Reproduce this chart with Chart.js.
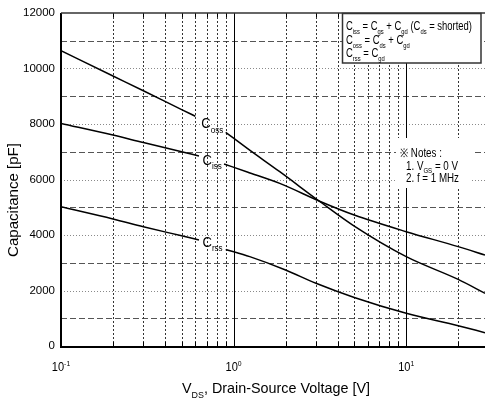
<!DOCTYPE html>
<html><head><meta charset="utf-8">
<script src="https://cdn.jsdelivr.net/npm/chart.js@4.4.0/dist/chart.umd.min.js"></script>
<style>html,body{margin:0;padding:0;background:#fff}#wrap{width:486px;height:403px;position:relative}</style>
</head><body><div id="wrap"><canvas id="c"></canvas></div>
<script>
const FONT = '"Liberation Sans", Arial, Helvetica, sans-serif';

// ---- data ----
const vdsOss = [0.1, 0.2, 0.3, 0.5, 0.6, 0.75, 0.9, 1.2, 1.85, 3.2, 5, 10, 20, 28.6];
const coss   = [10640, 9730, 9200, 8520, 8280, null, 7700, 7120, 6280, 5180, 4320, 3220, 2400, 1900];
const vdsIss = [0.1, 0.2, 0.3, 0.5, 0.63, 0.75, 0.88, 1.2, 1.85, 3.2, 5, 10, 20, 28.6];
const ciss   = [8020, 7600, 7330, 7000, 6850, null, 6560, 6270, 5860, 5200, 4720, 4120, 3580, 3280];
const vdsRss = [0.1, 0.2, 0.3, 0.5, 0.63, 0.76, 0.9, 1.24, 2, 3, 5, 10, 20, 28.6];
const crss   = [5020, 4580, 4300, 3970, 3820, null, 3480, 3220, 2740, 2260, 1750, 1180, 730, 480];

const xMin = 0.1, xMax = 28.6;
const yMin = 0, yMax = 12000, yStep = 2000;
const xMajor = [0.1, 1, 10];
const xMinor = [0.2,0.3,0.4,0.5,0.6,0.7,0.8,0.9,2,3,4,5,6,7,8,9,20];
const xTickBase = ['10','10','10'];
const xTickExp  = ['-1','0','1'];
const yHalfGrid = [1000,3000,5000,7000,9000,11000];
const yFullGrid = [2000,4000,6000,8000,10000];

const curveLabels = [
  {main:'C', sub:'oss', x:0.65, y:8020},
  {main:'C', sub:'iss', x:0.66, y:6700},
  {main:'C', sub:'rss', x:0.66, y:3760}
];
const legendLines = [
  [['C',0],['iss',1],[' = ',0],['C',0],['gs',1],[' + ',0],['C',0],['gd',1],[' (',0],['C',0],['ds',1],[' = shorted)',0]],
  [['C',0],['oss',1],[' = ',0],['C',0],['ds',1],[' + ',0],['C',0],['gd',1]],
  [['C',0],['rss',1],[' = ',0],['C',0],['gd',1]]
];
const noteLines = [
  [['\u203B Notes :',0]],
  [['1. V',0],['GS',1],[' = 0 V',0]],
  [['2. f = 1 MHz',0]]
];
const yTitle = 'Capacitance [pF]';
const xTitle = [['V',0],['DS',1],[', Drain-Source Voltage [V]',0]];

function pts(xs, ys){ return xs.map((x,i)=>({x:x, y:ys[i]})); }

function richWidth(ctx, parts, size){
  let w = 0;
  parts.forEach(p=>{ ctx.font = (p[1] ? size*0.62 : size)+'px '+FONT; w += ctx.measureText(p[0]).width; });
  return w;
}
// draw text with sub/superscripts; sx = horizontal condense factor
function rich(ctx, parts, x, y, size, align, sx){
  sx = sx || 1;
  ctx.save();
  const w = richWidth(ctx, parts, size);
  if (align==='center') x -= w*sx/2;
  ctx.translate(x, y); ctx.scale(sx, 1);
  ctx.textAlign='left'; ctx.textBaseline='alphabetic';
  let cx = 0;
  parts.forEach(p=>{
    ctx.font = (p[1] ? size*0.62 : size)+'px '+FONT;
    const dy = p[1]===1 ? size*0.3 : (p[1]===2 ? -size*0.42 : 0);
    ctx.fillText(p[0], cx, dy);
    cx += ctx.measureText(p[0]).width;
  });
  ctx.restore();
  return w*sx;
}

const gridPlugin = {
  id:'grid',
  beforeDatasetsDraw(chart){
    const {ctx, chartArea:a, scales:{x, y}} = chart;
    ctx.save();
    ctx.lineWidth = 1;
    ctx.strokeStyle = '#8a8a8a'; ctx.setLineDash([1,2]);
    yFullGrid.forEach(v=>{ const p=Math.round(y.getPixelForValue(v))+0.5; ctx.beginPath(); ctx.moveTo(a.left,p); ctx.lineTo(a.right,p); ctx.stroke(); });
    ctx.strokeStyle = '#555'; ctx.setLineDash([6,3]);
    yHalfGrid.forEach(v=>{ const p=Math.round(y.getPixelForValue(v))+0.5; ctx.beginPath(); ctx.moveTo(a.left,p); ctx.lineTo(a.right,p); ctx.stroke(); });
    ctx.strokeStyle = '#333'; ctx.setLineDash([2,2]);
    xMinor.forEach(v=>{ const p=Math.round(x.getPixelForValue(v))+0.5; ctx.beginPath(); ctx.moveTo(p,a.top); ctx.lineTo(p,a.bottom); ctx.stroke(); });
    ctx.setLineDash([]); ctx.strokeStyle='#000';
    xMajor.slice(1).forEach(v=>{ const p=Math.round(x.getPixelForValue(v))+0.5; ctx.beginPath(); ctx.moveTo(p,a.top); ctx.lineTo(p,a.bottom); ctx.stroke(); });
    xMinor.concat(xMajor).forEach(v=>{ const p=Math.round(x.getPixelForValue(v))+0.5;
      ctx.beginPath(); ctx.moveTo(p,a.bottom); ctx.lineTo(p,a.bottom-4); ctx.moveTo(p,a.top); ctx.lineTo(p,a.top+4); ctx.stroke(); });
    ctx.fillStyle='#fff';
    ctx.fillRect(396, 138, 76, 50);
    ctx.restore();
  },
  afterDatasetsDraw(chart){
    const {ctx, chartArea:a, scales:{x, y}} = chart;
    ctx.save();
    ctx.fillStyle='#000';
    ctx.strokeStyle='#000'; ctx.lineWidth=2; ctx.setLineDash([]);
    ctx.beginPath(); ctx.moveTo(a.left, a.top); ctx.lineTo(a.left, a.bottom+1); ctx.lineTo(a.right, a.bottom+1); ctx.stroke();
    ctx.strokeStyle='#333'; ctx.lineWidth=1.5;
    ctx.beginPath(); ctx.moveTo(a.left, a.top); ctx.lineTo(a.right, a.top); ctx.stroke();
    curveLabels.forEach(l=>{
      const px = x.getPixelForValue(l.x), py = y.getPixelForValue(l.y);
      rich(ctx, [[l.main,0],[l.sub,1]], px, py+5, 14.5, 'left', 0.9);
    });
    xMajor.forEach((v,i)=>{
      const px = x.getPixelForValue(v);
      rich(ctx, [[xTickBase[i],0],[xTickExp[i],2]], px, a.bottom+25, 12, 'center', 0.92);
    });
    const xw = richWidth(ctx, xTitle, 15);
    rich(ctx, xTitle, 276, 393, 15, 'center', 188/xw);
    ctx.save();
    ctx.translate(14, 200); ctx.rotate(-Math.PI/2);
    ctx.font = '15px '+FONT; ctx.textAlign='center'; ctx.textBaseline='middle';
    const tw = ctx.measureText(yTitle).width;
    ctx.scale(114/tw, 1);
    ctx.fillText(yTitle, 0, 0);
    ctx.restore();
    const nw = richWidth(ctx, noteLines[1], 12);
    const nsx = 52/nw;
    [156.5, 169.5, 181.5].forEach((by,i)=>{
      rich(ctx, noteLines[i], i===0 ? 400 : 406, by, 12, 'left', nsx);
    });
    ctx.restore();
  },
  afterDraw(chart){
    const {ctx} = chart;
    ctx.save();
    ctx.fillStyle='#fff'; ctx.fillRect(342, 13, 139, 50);
    ctx.strokeStyle='#333'; ctx.lineWidth=1.5; ctx.setLineDash([]);
    ctx.strokeRect(342.5, 13.5, 138.5, 49.5);
    ctx.fillStyle='#000';
    const lw = richWidth(ctx, legendLines[0], 12.5);
    const lsx = 126/lw;
    [30, 44, 57].forEach((by,i)=>{ rich(ctx, legendLines[i], 346, by, 12.5, 'left', lsx); });
    ctx.restore();
  }
};

const ds = (d)=>({data:d, borderColor:'#000', borderWidth:1.5, pointRadius:0, fill:false,
  cubicInterpolationMode:'monotone', spanGaps:false});

new Chart(document.getElementById('c'), {
  type:'line',
  data:{datasets:[ds(pts(vdsOss,coss)), ds(pts(vdsIss,ciss)), ds(pts(vdsRss,crss))]},
  options:{
    responsive:true, maintainAspectRatio:false, animation:false,
    layout:{padding:{top:13, right:1, bottom:57, left:0}},
    plugins:{legend:{display:false}, tooltip:{enabled:false}},
    scales:{
      x:{type:'logarithmic', min:xMin, max:xMax, display:false},
      y:{type:'linear', min:yMin, max:yMax,
         ticks:{stepSize:yStep, color:'#000', padding:6, font:{size:11.5, family:FONT},
                callback:(v)=>String(v)},
         grid:{display:false, drawTicks:false}, border:{display:false},
         afterFit(s){ s.width = 61; }}
    }
  },
  plugins:[gridPlugin]
});
</script></body></html>
